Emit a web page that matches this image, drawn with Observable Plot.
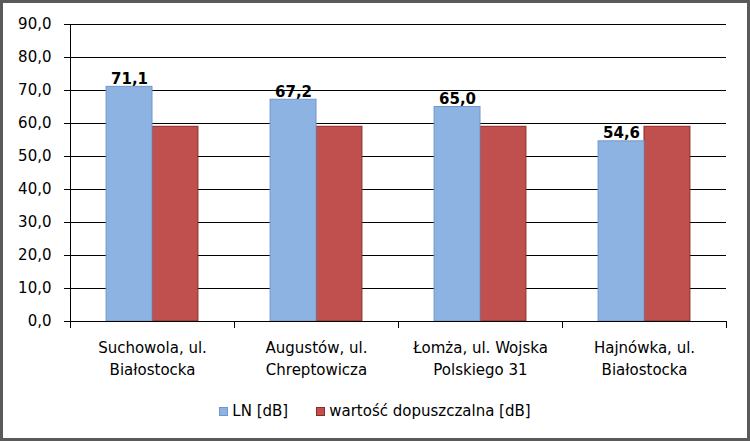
<!DOCTYPE html>
<html>
<head>
<meta charset="utf-8">
<script src="https://cdn.jsdelivr.net/npm/d3@7"></script>
<script src="https://cdn.jsdelivr.net/npm/@observablehq/plot@0.6"></script>
<style>
  html, body { margin: 0; padding: 0; background: #fff; }
  #chart {
    width: 750px; height: 441px; box-sizing: border-box;
    border: 3px solid #5a5a5a; background: #fff;
    font-family: "DejaVu Sans", sans-serif; font-size: 15px; color: #000;
    overflow: hidden;
  }
  #legend { display: flex; justify-content: center; align-items: center; height: 20px; margin-top: 8px; gap: 28px; }
  .item { display: flex; align-items: center; gap: 4px; }
  .sw { width: 9px; height: 9px; box-sizing: border-box; }
</style>
</head>
<body>
<div id="chart"></div>
<script>
const categories = ["Suchowola, ul.\nBiałostocka", "Augustów, ul.\nChreptowicza", "Łomża, ul. Wojska\nPolskiego 31", "Hajnówka, ul.\nBiałostocka"];
const lnValues = [71.1, 67.2, 65.0, 54.6];
const limitValues = [59.0, 59.0, 59.0, 59.0];
const seriesNames = ["LN [dB]", "wartość dopuszczalna [dB]"];
const yTicks = [0, 10, 20, 30, 40, 50, 60, 70, 80, 90];
const colors = { ln: "#8db3e2", lnStroke: "#7396c8", lim: "#c0504d", limStroke: "#8c2a27" };

const rows = categories.map((c, i) => ({ cat: c, ln: lnValues[i], lim: limitValues[i] }));

const W = 744, H = 390, mL = 67, mR = 21, mT = 21, mB = 72;
const step = (W - mL - mR) / categories.length;
const barW = step * 0.28;
const outer = (step - 2 * barW) / 2;
const half = step / 2;
const fmt = d => d.toFixed(1).replace(".", ",");

const plot = Plot.plot({
  width: W, height: H,
  marginLeft: mL, marginRight: mR, marginTop: mT, marginBottom: mB,
  style: { fontFamily: "DejaVu Sans", fontSize: "15px", color: "#000", background: "transparent" },
  x: { domain: categories, padding: 0, label: null },
  y: { domain: [0, 90], label: null },
  marks: [
    Plot.gridY(yTicks, { stroke: "#000", strokeOpacity: 1 }),
    Plot.axisY({ ticks: yTicks, tickFormat: fmt, tickSize: 6, tickPadding: 13, stroke: "#000", label: null, fontSize: 15 }),
    Plot.ruleX([categories[0]], { y1: 0, y2: 90, dx: -half, stroke: "#000" }),
    Plot.barY(rows, { x: "cat", y: "lim", fill: colors.lim, stroke: colors.limStroke, insetLeft: outer + barW, insetRight: outer }),
    Plot.barY(rows, { x: "cat", y: "ln", fill: colors.ln, stroke: colors.lnStroke, insetLeft: outer, insetRight: outer + barW }),
    Plot.ruleY([0], { stroke: "#000" }),
    Plot.ruleX(categories, { x: d => d, y1: 0, y2: 0, dx: -half, insetBottom: -7, stroke: "#000" }),
    Plot.ruleX([categories[categories.length - 1]], { x: d => d, y1: 0, y2: 0, dx: half, insetBottom: -7, stroke: "#000" }),
    Plot.text(rows, { x: "cat", y: "ln", text: d => fmt(d.ln), dx: -(half - outer - barW / 2), dy: -3, lineAnchor: "bottom", fontWeight: "bold", fontSize: 15, fill: "#000" }),
    Plot.axisX({ tickSize: 0, tickPadding: 16, lineHeight: 1.47, fontSize: 15, label: null, fill: "#000" })
  ]
});

const chart = document.getElementById("chart");
chart.appendChild(plot);
const legend = document.createElement("div");
legend.id = "legend";
legend.innerHTML =
  `<div class="item"><span class="sw" style="background:${colors.ln};border:1px solid ${colors.lnStroke}"></span><span>${seriesNames[0]}</span></div>` +
  `<div class="item"><span class="sw" style="background:${colors.lim};border:1px solid ${colors.limStroke}"></span><span>${seriesNames[1]}</span></div>`;
chart.appendChild(legend);
</script>
</body>
</html>
